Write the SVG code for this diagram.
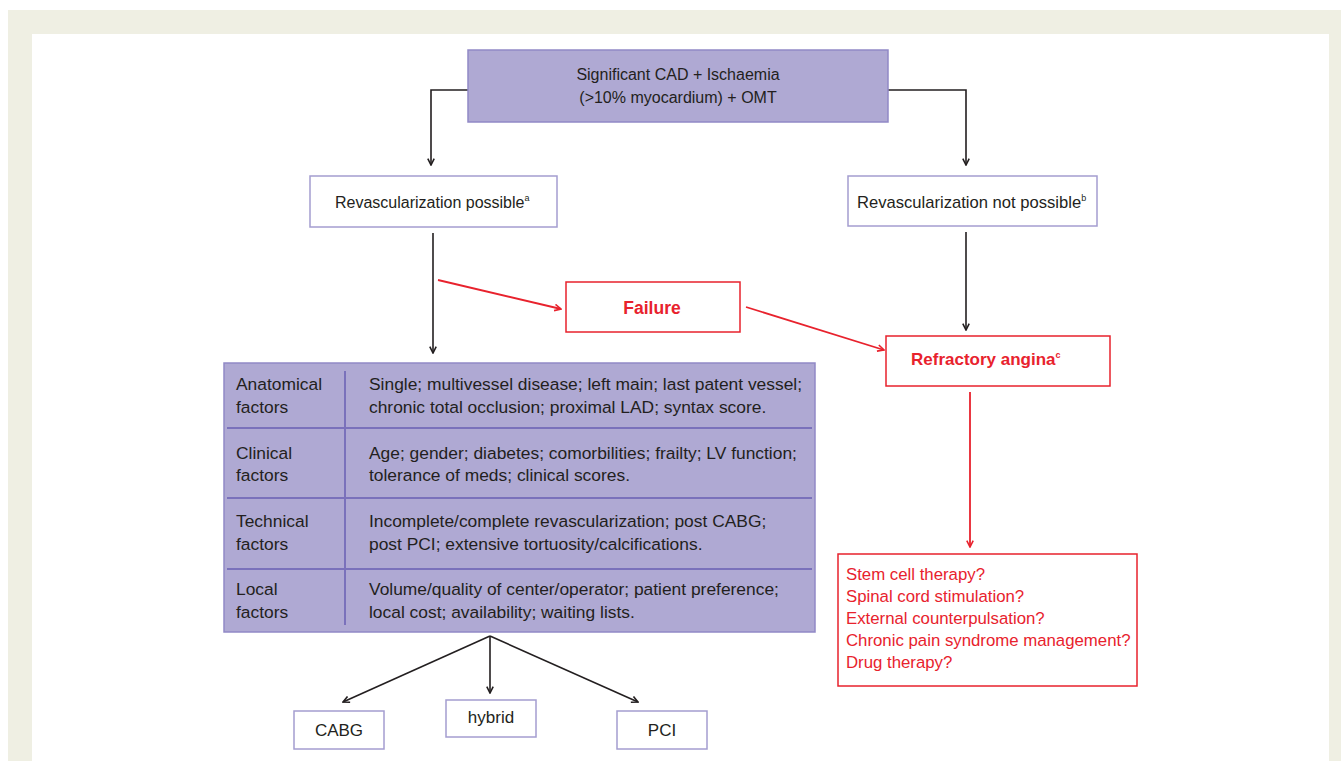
<svg xmlns="http://www.w3.org/2000/svg" width="1341" height="761" viewBox="0 0 1341 761">
<defs>
<style>
text{font-family:"Liberation Sans",Arial,sans-serif;font-size:16px;fill:#231f20}
.c{text-anchor:middle}
.r{fill:#e8222d}
.b{font-weight:bold}
.sup{font-size:9px}
.t{font-size:17.4px}
.l{font-size:16.8px}
.pbox{fill:#afa9d3;stroke:#9189c6;stroke-width:1.5}
.wbox{fill:#fff;stroke:#a49dd0;stroke-width:1.5}
.rbox{fill:#fff;stroke:#e8222d;stroke-width:1.5}
.k{fill:none;stroke:#231f20;stroke-width:1.6}
.rl{fill:none;stroke:#e8222d;stroke-width:1.8}
.div{stroke:#7a71bb;stroke-width:2}
</style>
<marker id="ak" viewBox="0 0 10 10" refX="9" refY="5" markerWidth="8" markerHeight="8" markerUnits="userSpaceOnUse" orient="auto">
<path d="M1,1 L9,5 L1,9" fill="none" stroke="#231f20" stroke-width="2"/>
</marker>
<marker id="ar" viewBox="0 0 10 10" refX="9" refY="5" markerWidth="8" markerHeight="8" markerUnits="userSpaceOnUse" orient="auto">
<path d="M1,1 L9,5 L1,9" fill="none" stroke="#e8222d" stroke-width="2"/>
</marker>
</defs>
<rect x="0" y="0" width="1341" height="761" fill="#fff"/>
<rect x="8" y="10" width="1333" height="751" fill="#efefe3"/>
<rect x="32" y="34" width="1297" height="727" fill="#fff"/>

<g id="connectors">
<path class="k" d="M468,90 H431 V165" marker-end="url(#ak)"/>
<path class="k" d="M888,90 H966 V165" marker-end="url(#ak)"/>
<path class="k" d="M433,233 V353" marker-end="url(#ak)"/>
<path class="k" d="M966,232 V330" marker-end="url(#ak)"/>
<path class="rl" d="M438,280 L561,309" marker-end="url(#ar)"/>
<path class="rl" d="M746,307 L884,350" marker-end="url(#ar)"/>
<path class="rl" d="M970,392 V547" marker-end="url(#ar)"/>
<path class="k" d="M490,636 L343,702" marker-end="url(#ak)"/>
<path class="k" d="M490,636 V693" marker-end="url(#ak)"/>
<path class="k" d="M490,636 L638,702" marker-end="url(#ak)"/>
</g>

<g id="start">
<rect class="pbox" x="468" y="50" width="420" height="72"/>
<text class="c" x="678" y="80">Significant CAD + Ischaemia</text>
<text class="c" x="678" y="103">(&gt;10% myocardium) + OMT</text>
</g>

<g id="revasc-possible">
<rect class="wbox" x="310" y="176" width="247" height="51"/>
<text x="335" y="208">Revascularization possible<tspan class="sup" dy="-7">a</tspan></text>
</g>

<g id="revasc-not-possible">
<rect class="wbox" x="848" y="176" width="249" height="50"/>
<text x="857" y="208" style="font-size:16.6px">Revascularization not possible<tspan class="sup" dy="-7">b</tspan></text>
</g>

<g id="failure">
<rect class="rbox" x="566" y="282" width="174" height="50"/>
<text class="c r b" x="652" y="314" style="font-size:17.5px">Failure</text>
</g>

<g id="refractory">
<rect class="rbox" x="886" y="336" width="224" height="50"/>
<text class="r b" x="911" y="365" style="font-size:17px">Refractory angina<tspan class="sup" dy="-7">c</tspan></text>
</g>

<g id="factors">
<rect class="pbox" x="224" y="363" width="591" height="269"/>
<line class="div" x1="227" y1="428" x2="812" y2="428"/>
<line class="div" x1="227" y1="498" x2="812" y2="498"/>
<line class="div" x1="227" y1="569" x2="812" y2="569"/>
<line class="div" x1="345" y1="371" x2="345" y2="625"/>
<text class="t" x="236" y="390">Anatomical</text>
<text class="t" x="236" y="413">factors</text>
<text class="t" x="369" y="390">Single; multivessel disease; left main; last patent vessel;</text>
<text class="t" x="369" y="413">chronic total occlusion; proximal LAD; syntax score.</text>
<text class="t" x="236" y="459">Clinical</text>
<text class="t" x="236" y="481">factors</text>
<text class="t" x="369" y="459">Age; gender; diabetes; comorbilities; frailty; LV function;</text>
<text class="t" x="369" y="481">tolerance of meds; clinical scores.</text>
<text class="t" x="236" y="527">Technical</text>
<text class="t" x="236" y="550">factors</text>
<text class="t" x="369" y="527">Incomplete/complete revascularization; post CABG;</text>
<text class="t" x="369" y="550">post PCI; extensive tortuosity/calcifications.</text>
<text class="t" x="236" y="595">Local</text>
<text class="t" x="236" y="618">factors</text>
<text class="t" x="369" y="595">Volume/quality of center/operator; patient preference;</text>
<text class="t" x="369" y="618">local cost; availability; waiting lists.</text>
</g>

<g id="therapies">
<rect class="rbox" x="838" y="554" width="299" height="132"/>
<text class="r l" x="846" y="580">Stem cell therapy?</text>
<text class="r l" x="846" y="602">Spinal cord stimulation?</text>
<text class="r l" x="846" y="624">External counterpulsation?</text>
<text class="r l" x="846" y="646">Chronic pain syndrome management?</text>
<text class="r l" x="846" y="668">Drug therapy?</text>
</g>

<g id="cabg">
<rect class="wbox" x="294" y="711" width="90" height="38"/>
<text class="c" x="339" y="736" style="font-size:17px">CABG</text>
</g>
<g id="hybrid">
<rect class="wbox" x="446" y="700" width="90" height="37"/>
<text class="c" x="491" y="723" style="font-size:17px">hybrid</text>
</g>
<g id="pci">
<rect class="wbox" x="617" y="711" width="90" height="38"/>
<text class="c" x="662" y="736" style="font-size:17px">PCI</text>
</g>
</svg>
